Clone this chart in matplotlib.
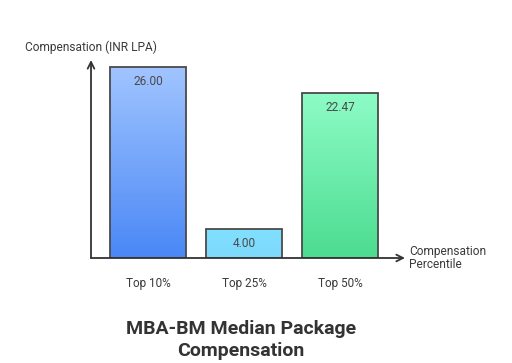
import numpy as np
import matplotlib
matplotlib.use("Agg")
import matplotlib.pyplot as plt
from matplotlib.colors import LinearSegmentedColormap
from matplotlib.patches import Rectangle

plt.rcParams["font.family"] = ["Roboto", "DejaVu Sans"]

categories = ["Top 10%", "Top 25%", "Top 50%"]
values = [26.00, 4.00, 22.47]
value_labels = ["26.00", "4.00", "22.47"]
top_colors = ["#a0c4ff", "#80e0ff", "#8dfcc6"]
bottom_colors = ["#4a88f6", "#7ed9fc", "#4cdc90"]

fig = plt.figure(figsize=(5.12, 3.63), dpi=100)
W, H = 512, 363
left, right, bottom, top = 91, 405, 258, 60
ax = fig.add_axes([left / W, (H - bottom) / H, (right - left) / W, (bottom - top) / H])

spacing = 96
x0 = 148
xmin = (left - x0) / spacing
xmax = (right - x0) / spacing
ymax = 26 * (bottom - top) / 191
ax.set_xlim(xmin, xmax)
ax.set_ylim(0, ymax)
ax.axis("off")

width = 76 / spacing
for i, (v, lab) in enumerate(zip(values, value_labels)):
    cmap = LinearSegmentedColormap.from_list("g", [bottom_colors[i], top_colors[i]])
    grad = np.linspace(0, 1, 100).reshape(-1, 1)
    im = ax.imshow(grad, cmap=cmap, origin="lower", aspect="auto",
                   extent=[i - width / 2, i + width / 2, 0, v], zorder=1)
    rect = Rectangle((i - width / 2, 0), width, v, facecolor="none",
                     edgecolor="#4a4a4a", linewidth=1.3, zorder=2)
    ax.add_patch(rect)
    im.set_clip_path(rect)
    ax.annotate(lab, (i, v), xytext=(0, -10.5), textcoords="offset points",
                ha="center", va="center", fontsize=8.6, color="#4a4a4a")
    ax.annotate(categories[i], (i, 0), xytext=(0, -18), textcoords="offset points",
                ha="center", va="center", fontsize=8.5, color="#3a3a3a",
                annotation_clip=False)

ax.set_xlim(xmin, xmax)
ax.set_ylim(0, ymax)

# axes with open arrows
ax.annotate("", xy=(xmin, ymax), xytext=(xmin, 0),
            arrowprops=dict(arrowstyle="->", color="#333333", lw=1.3,
                            mutation_scale=12, shrinkA=0, shrinkB=0),
            annotation_clip=False)
ax.annotate("", xy=(xmax, 0), xytext=(xmin, 0),
            arrowprops=dict(arrowstyle="->", color="#333333", lw=1.3,
                            mutation_scale=12, shrinkA=0, shrinkB=0),
            annotation_clip=False)

fig.text(25 / W, 1 - 47 / H, "Compensation (INR LPA)", fontsize=8.6,
         color="#3a3a3a", ha="left", va="center")
fig.text(409 / W, 1 - 258 / H, "Compensation\nPercentile", fontsize=8.6,
         color="#3a3a3a", ha="left", va="center", linespacing=1.1)
fig.text(241 / W, 1 - 340 / H, "MBA-BM Median Package\nCompensation",
         fontsize=14, fontweight="bold", color="#333333",
         ha="center", va="center", linespacing=1.22)

fig.savefig("out.png", dpi=100, facecolor="white")
